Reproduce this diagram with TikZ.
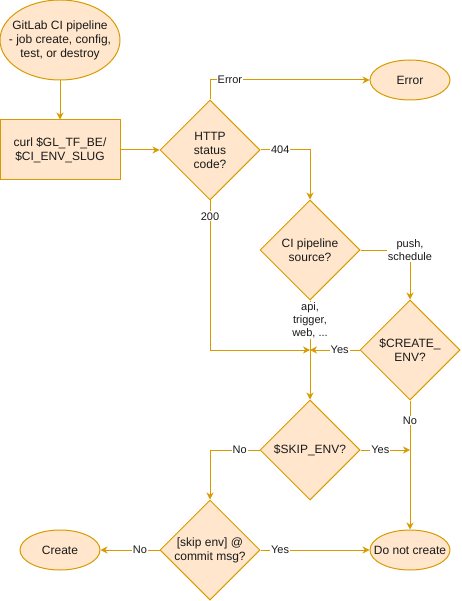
\documentclass[tikz,border=0pt]{standalone}
\usepackage{fontspec}
\setmainfont{Liberation Sans}
\usetikzlibrary{shapes.geometric,arrows.meta}
\definecolor{fillc}{HTML}{FFE6CC}
\definecolor{strokec}{HTML}{D79B00}
\definecolor{txtc}{HTML}{1A1A1A}
\tikzset{
  x=1pt, y=-1pt,
  base/.style={draw=strokec, fill=fillc, line width=1pt, inner sep=0pt},
  dia/.style={base, diamond, minimum width=100pt, minimum height=100pt},
  ell/.style={base, ellipse},
  box/.style={base, rectangle, minimum width=120pt, minimum height=60pt},
  txt/.style={text=txtc, align=center, font=\fontsize{12}{14}\selectfont, inner sep=0pt},
  lbl/.style={text=txtc, align=center, fill=white, font=\fontsize{11}{13}\selectfont, inner sep=1pt},
  conn/.style={draw=strokec, line width=1pt, -{Stealth[length=7pt,width=7pt,inset=2.2pt]}},
  plain/.style={draw=strokec, line width=1pt},
}
\begin{document}
\begin{tikzpicture}
\useasboundingbox (0,0) rectangle (461,601);
% nodes
\node[ell, minimum width=120pt, minimum height=80pt] (start) at (60,40) {};
\node[txt] at (start) {GitLab CI pipeline\\- job create, config,\\test, or destroy};
\node[box] (curl) at (60,150) {};
\node[txt] at (curl) {curl \$GL\_TF\_BE/\\\$CI\_ENV\_SLUG};
\node[dia] (http) at (210,150) {};
\node[txt] at (http) {HTTP\\status\\code?};
\node[ell, minimum width=80pt, minimum height=40pt] (err) at (410,80) {};
\node[txt] at (err) {Error};
\node[dia] (ci) at (310,250) {};
\node[txt] at (ci) {CI pipeline\\source?};
\node[dia] (cenv) at (410,350) {};
\node[txt] at (cenv) {\$CREATE\_\\ENV?};
\node[dia] (senv) at (310,450) {};
\node[txt] at (senv) {\$SKIP\_ENV?};
\node[dia] (smsg) at (210,550) {};
\node[txt] at (smsg) {[skip env] @\\commit msg?};
\node[ell, minimum width=80pt, minimum height=40pt] (create) at (60,550) {};
\node[txt] at (create) {Create};
\node[ell, minimum width=80pt, minimum height=40pt] (dnc) at (410,550) {};
\node[txt] at (dnc) {Do not create};
\coordinate (j1) at (310,350);
\coordinate (j2) at (410,450);
% connectors
\draw[conn] (start.south) -- (curl.north);
\draw[conn] (curl.east) -- (http.west);
\draw[conn] (http.north) |- node[lbl, pos=0.5625] {Error} (err.west);
\draw[conn] (http.east) -| node[lbl, pos=0.2] {404} (ci.north);
\draw[conn] (http.south) |- node[lbl, pos=0.053] {200} (j1);
\draw[conn] (ci.east) -| node[lbl, pos=0.5] {push,\\schedule} (cenv.north);
\draw[conn] (ci.south) -- node[lbl, pos=0.2] {api,\\trigger,\\web, ...} (senv.north);
\draw[conn] (cenv.west) -- node[lbl, pos=0.4] {Yes} (j1);
\draw[conn] (cenv.south) -- node[lbl, pos=0.154] {No} (dnc.north);
\draw[conn] (senv.east) -- node[lbl, pos=0.4] {Yes} (j2);
\draw[conn] (senv.west) -| node[lbl, pos=0.2] {No} (smsg.north);
\draw[conn] (smsg.east) -- node[lbl, pos=0.18] {Yes} (dnc.west);
\draw[conn] (smsg.west) -- node[lbl, pos=0.333] {No} (create.east);
\end{tikzpicture}
\end{document}
